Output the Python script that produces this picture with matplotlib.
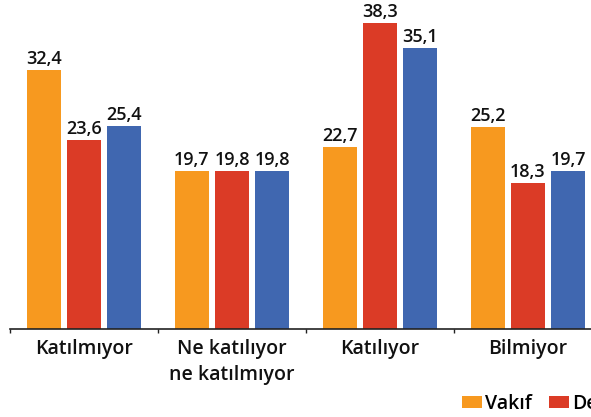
import matplotlib
matplotlib.use("Agg")
import matplotlib.pyplot as plt
import numpy as np
from matplotlib.patches import Patch

categories = ["Katılmıyor", "Ne katılıyor\nne katılmıyor", "Katılıyor", "Bilmiyor"]
series_names = ["Vakıf", "Devlet", "Toplam"]
vakif = [32.4, 19.7, 22.7, 25.2]
devlet = [23.6, 19.8, 38.3, 18.3]
toplam = [25.4, 19.8, 35.1, 19.7]
colors = ["#F7991F", "#DB3B26", "#4067B0"]

plt.rcParams['font.family'] = ['Open Sans', 'DejaVu Sans']

W, H = 591, 417
fig = plt.figure(figsize=(W / 100, H / 100), dpi=100)
left_px, right_px, base_px, top_px = 10, 602, 329, 1
ax = fig.add_axes([left_px / W, (H - base_px) / H, (right_px - left_px) / W, (base_px - top_px) / H])

x = np.arange(len(categories))
bw = 0.23
offs = [-0.273, 0.0, 0.273]
for vals, off, c in zip([vakif, devlet, toplam], offs, colors):
    bars = ax.bar(x + off, vals, width=bw, color=c, zorder=2)
    for b, v in zip(bars, vals):
        ax.annotate(f"{v:.1f}".replace(".", ","), (b.get_x() + b.get_width() / 2, v),
                    xytext=(0, 1.5), textcoords="offset points", ha="center", va="bottom",
                    fontsize=13, fontweight=600, color="#111111")

ax.set_xlim(-0.5, len(categories) - 0.5)
ax.set_ylim(0, 41)
for s in ["top", "right", "left"]:
    ax.spines[s].set_visible(False)
ax.spines["bottom"].set_color("#222222")
ax.spines["bottom"].set_linewidth(1.2)
ax.set_yticks([])
ax.set_xticks(np.arange(len(categories) + 1) - 0.5, minor=False)
ax.set_xticklabels([""] * (len(categories) + 1))
ax.tick_params(axis="x", length=3, width=1, color="#222222")
for i, cat in enumerate(categories):
    ax.annotate(cat, (i, 0), xytext=(0, -7.5), textcoords="offset points",
                ha="center", va="top", fontsize=14, fontweight=600,
                color="#111111", linespacing=1.37, annotation_clip=False)

handles = [Patch(facecolor=c, edgecolor="none") for c in colors]
fig.legend(handles, series_names, loc="lower left",
           bbox_to_anchor=(462 / W, 3 / H), ncol=3, frameon=False,
           prop={"size": 14, "weight": 600}, handlelength=1.03, handleheight=0.62,
           handletextpad=0.15, columnspacing=0.88, borderaxespad=0.0, borderpad=0.0)

fig.savefig("out.png", dpi=100)
